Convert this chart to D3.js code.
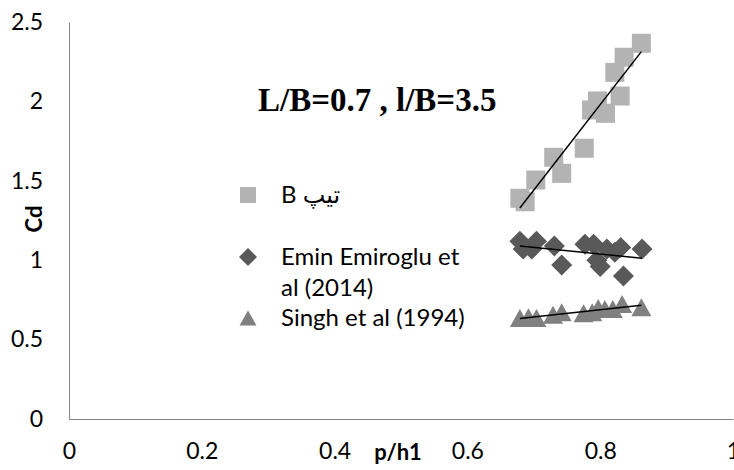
<!DOCTYPE html>
<html lang="en">
  <head>
    <meta charset="utf-8">
    <title>Cd vs p/h1</title>
    <script src="https://d3js.org/d3.v7.min.js"></script>
    <style>
      body { margin: 0; background: #fff; }
    </style>
  </head>
  <body>
  <script>
  const width = 734;
  const height = 470;

  // data
  const typeBX = [0.679, 0.687, 0.703, 0.730, 0.742, 0.776, 0.787, 0.796, 0.808, 0.822, 0.830, 0.836, 0.862];
  const typeBY = [1.390, 1.368, 1.505, 1.648, 1.547, 1.705, 1.946, 2.003, 1.925, 2.183, 2.034, 2.278, 2.366];

  const emirogluX = [0.679, 0.684, 0.697, 0.704, 0.731, 0.742, 0.777, 0.790, 0.795, 0.800, 0.810, 0.822, 0.831, 0.835, 0.863];
  const emirogluY = [1.12, 1.07, 1.07, 1.12, 1.09, 0.97, 1.10, 1.10, 1.00, 0.96, 1.07, 1.05, 1.08, 0.90, 1.07];

  const singhX = [0.679, 0.692, 0.704, 0.729, 0.742, 0.775, 0.788, 0.797, 0.807, 0.819, 0.833, 0.862];
  const singhY = [0.636, 0.640, 0.636, 0.657, 0.672, 0.666, 0.672, 0.699, 0.693, 0.693, 0.724, 0.703];

  const xTicks = [0, 0.2, 0.4, 0.6, 0.8, 1];
  const xTickLabels = ["0", "0.2", "0.4", "0.6", "0.8", "1"];
  const yTicks = [0, 0.5, 1, 1.5, 2, 2.5];
  const yTickLabels = ["0", "0.5", "1", "1.5", "2", "2.5"];

  const legendLabels = [["B تیپ"], ["Emin Emiroglu et", "al (2014)"], ["Singh et al (1994)"]];

  const font = "Lato, 'DejaVu Sans', sans-serif";

  const svg = d3.select(document.body).append('svg').attr('width', width).attr('height', height);

  const x = d3.scaleLinear().domain([0, 1]).range([69, 733]);
  const y = d3.scaleLinear().domain([0, 2.5]).range([419, 22]);

  // axes
  const xAxis = svg.append('g')
    .attr('transform', 'translate(0,419)')
    .call(d3.axisBottom(x).tickValues(xTicks).tickSize(0).tickPadding(24)
      .tickFormat((d, i) => xTickLabels[i]));
  const yAxis = svg.append('g')
    .attr('transform', 'translate(69,0)')
    .call(d3.axisLeft(y).tickValues(yTicks).tickSize(0).tickPadding(26)
      .tickFormat((d, i) => yTickLabels[i]));

  [xAxis, yAxis].forEach(a => {
    a.select('.domain').attr('stroke', '#868686').attr('stroke-width', 1);
    a.selectAll('text').attr('font-family', font).attr('font-size', '23px').attr('fill', '#000');
  });

  // axis titles
  svg.append('text')
    .attr('x', 398).attr('y', 460)
    .attr('text-anchor', 'middle')
    .attr('font-family', font).attr('font-weight', 'bold').attr('font-size', '22px')
    .text('p/h1');
  svg.append('text')
    .attr('transform', 'translate(42,219) rotate(-90)')
    .attr('text-anchor', 'middle')
    .attr('font-family', font).attr('font-weight', 'bold').attr('font-size', '22px')
    .text('Cd');

  // title inside plot
  svg.append('text')
    .attr('x', 258).attr('y', 111)
    .attr('font-family', "'Liberation Serif', 'Times New Roman', serif")
    .attr('font-weight', 'bold').attr('font-size', '33px')
    .text('L/B=0.7 , l/B=3.5');

  // marker shapes
  const square = s => `M${-s / 2},${-s / 2}h${s}v${s}h${-s}Z`;
  const diamond = s => `M0,${-s / 2}L${s / 2},0L0,${s / 2}L${-s / 2},0Z`;
  const triangle = (w, h) => `M0,${-h / 2}L${w / 2},${h / 2}L${-w / 2},${h / 2}Z`;

  const series = [
    { xs: typeBX, ys: typeBY, color: '#b3b3b3', path: square(19), legendPath: square(16) },
    { xs: emirogluX, ys: emirogluY, color: '#595959', path: diamond(21), legendPath: diamond(18) },
    { xs: singhX, ys: singhY, color: '#808080', path: triangle(20, 18), legendPath: triangle(17, 15) }
  ];

  series.forEach(s => {
    svg.append('g').selectAll('path')
      .data(d3.range(s.xs.length))
      .enter().append('path')
      .attr('transform', i => `translate(${x(s.xs[i])},${y(s.ys[i])})`)
      .attr('d', s.path)
      .attr('fill', s.color);
  });

  // linear trendlines (least squares)
  function fit(xs, ys) {
    const mx = d3.mean(xs), my = d3.mean(ys);
    let sxy = 0, sxx = 0;
    xs.forEach((v, i) => { sxy += (v - mx) * (ys[i] - my); sxx += (v - mx) * (v - mx); });
    const b = sxy / sxx, a = my - b * mx;
    const x0 = d3.min(xs), x1 = d3.max(xs);
    return [[x0, a + b * x0], [x1, a + b * x1]];
  }

  series.forEach(s => {
    const p = fit(s.xs, s.ys);
    svg.append('line')
      .attr('x1', x(p[0][0])).attr('y1', y(p[0][1]))
      .attr('x2', x(p[1][0])).attr('y2', y(p[1][1]))
      .attr('stroke', '#000').attr('stroke-width', 1.5);
  });

  // legend
  const legendY = [195, 257, 318];
  series.forEach((s, i) => {
    svg.append('path')
      .attr('transform', `translate(248,${legendY[i]})`)
      .attr('d', s.legendPath)
      .attr('fill', s.color);
    const t = svg.append('text')
      .attr('font-family', font).attr('font-size', '24px');
    legendLabels[i].forEach((line, j) => {
      t.append('tspan')
        .attr('x', 281).attr('y', legendY[i] + j * 31)
        .attr('dy', '0.35em')
        .text(line);
    });
  });
</script>
  </body>
</html>
